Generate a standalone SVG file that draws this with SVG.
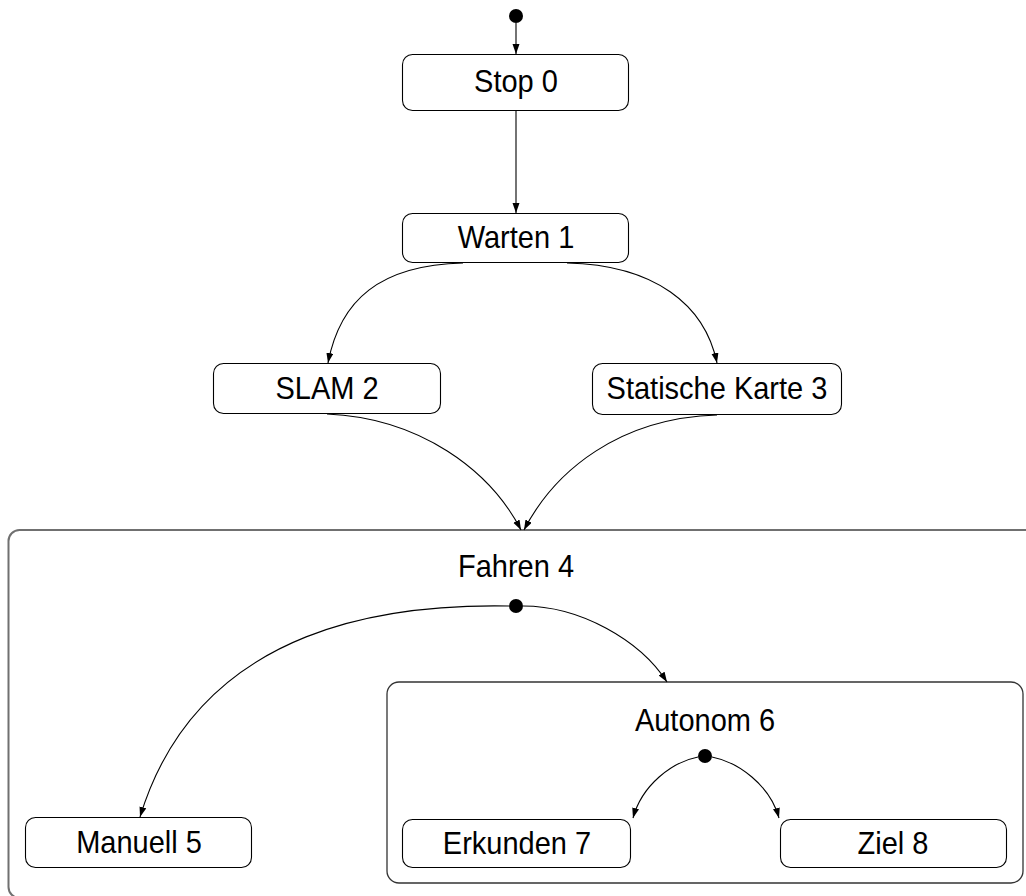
<svg xmlns="http://www.w3.org/2000/svg" width="1026" height="896" viewBox="0 0 1026 896">
<style>
.st{fill:#fff;stroke:#000;stroke-width:1.1}
.frame{fill:none;stroke:#707070;stroke-width:2}
.frame2{fill:none;stroke:#333;stroke-width:1.3}
.lbl{font-family:"Liberation Sans",Arial,sans-serif;font-size:29px;fill:#000;text-anchor:middle}
.edge{fill:none;stroke:#000;stroke-width:1.1;marker-end:url(#ah)}
.dot{fill:#000}
</style>
<defs>
<marker id="ah" markerUnits="userSpaceOnUse" markerWidth="11" markerHeight="8" refX="10" refY="3.5" orient="auto">
<path d="M0,0 L10,3.5 L0,7 z" fill="#000"/>
</marker>
</defs>
<rect width="1026" height="896" fill="#fff"/>
<g id="fahren4">
<rect class="frame" x="8.5" y="530" width="1040" height="368" rx="11"/>
<text class="lbl" x="516" y="534.26" transform="scale(1,1.08)">Fahren 4</text>
</g>
<g id="autonom6">
<rect class="frame2" x="387" y="682" width="636" height="201" rx="12"/>
<text class="lbl" x="705" y="676.85" transform="scale(1,1.08)">Autonom 6</text>
</g>
<g id="init0"><circle class="dot" cx="516" cy="16" r="7"/></g>
<g id="init4"><circle class="dot" cx="516" cy="606" r="7"/></g>
<g id="init6"><circle class="dot" cx="705" cy="756" r="7"/></g>
<g id="stop0">
<rect class="st" x="402.5" y="54.5" width="226" height="56" rx="10"/>
<text class="lbl" x="516" y="85.19" transform="scale(1,1.08)">Stop 0</text>
</g>
<g id="warten1">
<rect class="st" x="402.5" y="213.5" width="226" height="49" rx="10"/>
<text class="lbl" x="516" y="229.63" transform="scale(1,1.08)">Warten 1</text>
</g>
<g id="slam2">
<rect class="st" x="213.5" y="363.5" width="227" height="50" rx="10"/>
<text class="lbl" x="327" y="369.44" transform="scale(1,1.08)">SLAM 2</text>
</g>
<g id="karte3">
<rect class="st" x="592.5" y="363.5" width="249" height="51" rx="10"/>
<text class="lbl" x="717" y="369.44" transform="scale(1,1.08)">Statische Karte 3</text>
</g>
<g id="manuell5">
<rect class="st" x="25.5" y="817.5" width="226" height="50" rx="10"/>
<text class="lbl" x="139" y="789.81" transform="scale(1,1.08)">Manuell 5</text>
</g>
<g id="erkunden7">
<rect class="st" x="402.5" y="819.5" width="228" height="48" rx="10"/>
<text class="lbl" x="517" y="790.74" transform="scale(1,1.08)">Erkunden 7</text>
</g>
<g id="ziel8">
<rect class="st" x="780.5" y="819.5" width="226" height="48" rx="10"/>
<text class="lbl" x="893" y="790.74" transform="scale(1,1.08)">Ziel 8</text>
</g>
<g id="connectors">
<path class="edge" d="M516,23 L516,54"/>
<path class="edge" d="M516,111 L516,213"/>
<path class="edge" d="M463,263 C380,265 340,300 328,363"/>
<path class="edge" d="M567,263 C655,265 705,305 717,363"/>
<path class="edge" d="M327,414 C420,418 490,470 521,530"/>
<path class="edge" d="M717,415 C620,418 555,470 524,530"/>
<path class="edge" d="M509,606 C400,604 200,620 140,817"/>
<path class="edge" d="M523,606 C580,606 640,640 667,682"/>
<path class="edge" d="M698,757 C672,762 642,785 633,818"/>
<path class="edge" d="M712,757 C738,762 770,785 779,818"/>
</g>
</svg>
